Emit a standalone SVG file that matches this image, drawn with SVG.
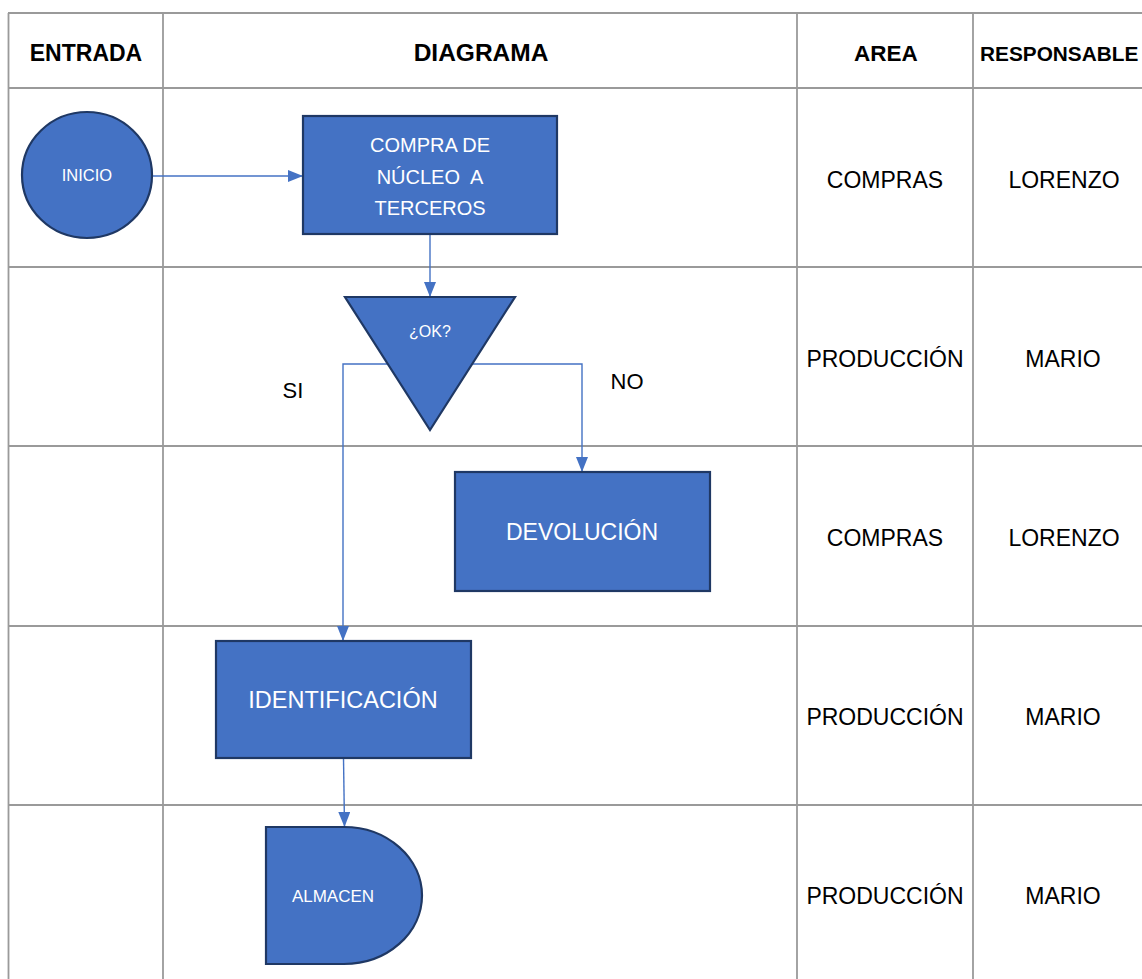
<svg xmlns="http://www.w3.org/2000/svg" width="1142" height="979" viewBox="0 0 1142 979">
<defs>
<style>
.grid{stroke:#9a9a9a;stroke-width:1.8;fill:none}
.hd{font-family:"Liberation Sans",Arial,sans-serif;font-weight:bold;fill:#000}
.cell{font-family:"Liberation Sans",Arial,sans-serif;font-size:23px;fill:#000;text-anchor:middle}
.node{fill:#4472C4;stroke:#1F3864;stroke-width:2.2}
.nt{font-family:"Liberation Sans",Arial,sans-serif;fill:#fff;text-anchor:middle}
.conn{stroke:#4472C4;stroke-width:1.4;fill:none}
.lbl{font-family:"Liberation Sans",Arial,sans-serif;font-size:22px;fill:#000;text-anchor:middle}
</style>
<marker id="arr" markerUnits="userSpaceOnUse" viewBox="0 0 15 12" markerWidth="15" markerHeight="12" refX="15" refY="6" orient="auto">
<path d="M0,0 L15,6 L0,12 z" fill="#4472C4"/>
</marker>
</defs>
<rect width="1142" height="979" fill="#fff"/>
<g id="table">
<line class="grid" x1="8" y1="13" x2="1142" y2="13"/>
<line class="grid" x1="8" y1="88" x2="1142" y2="88"/>
<line class="grid" x1="8" y1="267" x2="1142" y2="267"/>
<line class="grid" x1="8" y1="446" x2="1142" y2="446"/>
<line class="grid" x1="8" y1="626" x2="1142" y2="626"/>
<line class="grid" x1="8" y1="805" x2="1142" y2="805"/>
<line class="grid" x1="8.5" y1="13" x2="8.5" y2="979"/>
<line class="grid" x1="163" y1="13" x2="163" y2="979"/>
<line class="grid" x1="797" y1="13" x2="797" y2="979"/>
<line class="grid" x1="973" y1="13" x2="973" y2="979"/>
<text class="hd" x="86" y="61" font-size="23" text-anchor="middle">ENTRADA</text>
<text class="hd" x="481" y="61" font-size="24.5" text-anchor="middle">DIAGRAMA</text>
<text class="hd" x="886" y="61" font-size="22.5" text-anchor="middle">AREA</text>
<text class="hd" x="980" y="61" font-size="20.8" text-anchor="start">RESPONSABLE</text>
<text class="cell" x="885" y="188">COMPRAS</text>
<text class="cell" x="1064" y="188">LORENZO</text>
<text class="cell" x="885" y="367">PRODUCCIÓN</text>
<text class="cell" x="1063" y="367">MARIO</text>
<text class="cell" x="885" y="546">COMPRAS</text>
<text class="cell" x="1064" y="546">LORENZO</text>
<text class="cell" x="885" y="725">PRODUCCIÓN</text>
<text class="cell" x="1063" y="725">MARIO</text>
<text class="cell" x="885" y="904">PRODUCCIÓN</text>
<text class="cell" x="1063" y="904">MARIO</text>
</g>
<g id="connectors">
<path class="conn" d="M152,176 L303,176" marker-end="url(#arr)"/>
<path class="conn" d="M430,234 L430,297" marker-end="url(#arr)"/>
<path class="conn" d="M388,364 L343,364 L343,641" marker-end="url(#arr)"/>
<path class="conn" d="M472,364 L582,364 L582,472" marker-end="url(#arr)"/>
<path class="conn" d="M343.5,758 L344.5,827" marker-end="url(#arr)"/>
<text class="lbl" x="293" y="398">SI</text>
<text class="lbl" x="627" y="389">NO</text>
</g>
<g id="inicio">
<ellipse class="node" cx="87" cy="175" rx="65" ry="63"/>
<text class="nt" x="87" y="181" font-size="16.5">INICIO</text>
</g>
<g id="compra">
<rect class="node" x="303" y="116" width="254" height="118"/>
<text class="nt" x="430" y="152" font-size="20">COMPRA DE</text>
<text class="nt" x="430" y="184" font-size="20" xml:space="preserve">NÚCLEO  A</text>
<text class="nt" x="430" y="215" font-size="20">TERCEROS</text>
</g>
<g id="ok">
<polygon class="node" points="345,297 515,297 430,430"/>
<text class="nt" x="430" y="337" font-size="16">¿OK?</text>
</g>
<g id="devolucion">
<rect class="node" x="455" y="472" width="255" height="119"/>
<text class="nt" x="582" y="540" font-size="23">DEVOLUCIÓN</text>
</g>
<g id="identificacion">
<rect class="node" x="216" y="641" width="255" height="117"/>
<text class="nt" x="343" y="708" font-size="23.5">IDENTIFICACIÓN</text>
</g>
<g id="almacen">
<path class="node" d="M266,827 L344,827 A78,68.5 0 0 1 344,964 L266,964 Z"/>
<text class="nt" x="333" y="902" font-size="17">ALMACEN</text>
</g>
</svg>
